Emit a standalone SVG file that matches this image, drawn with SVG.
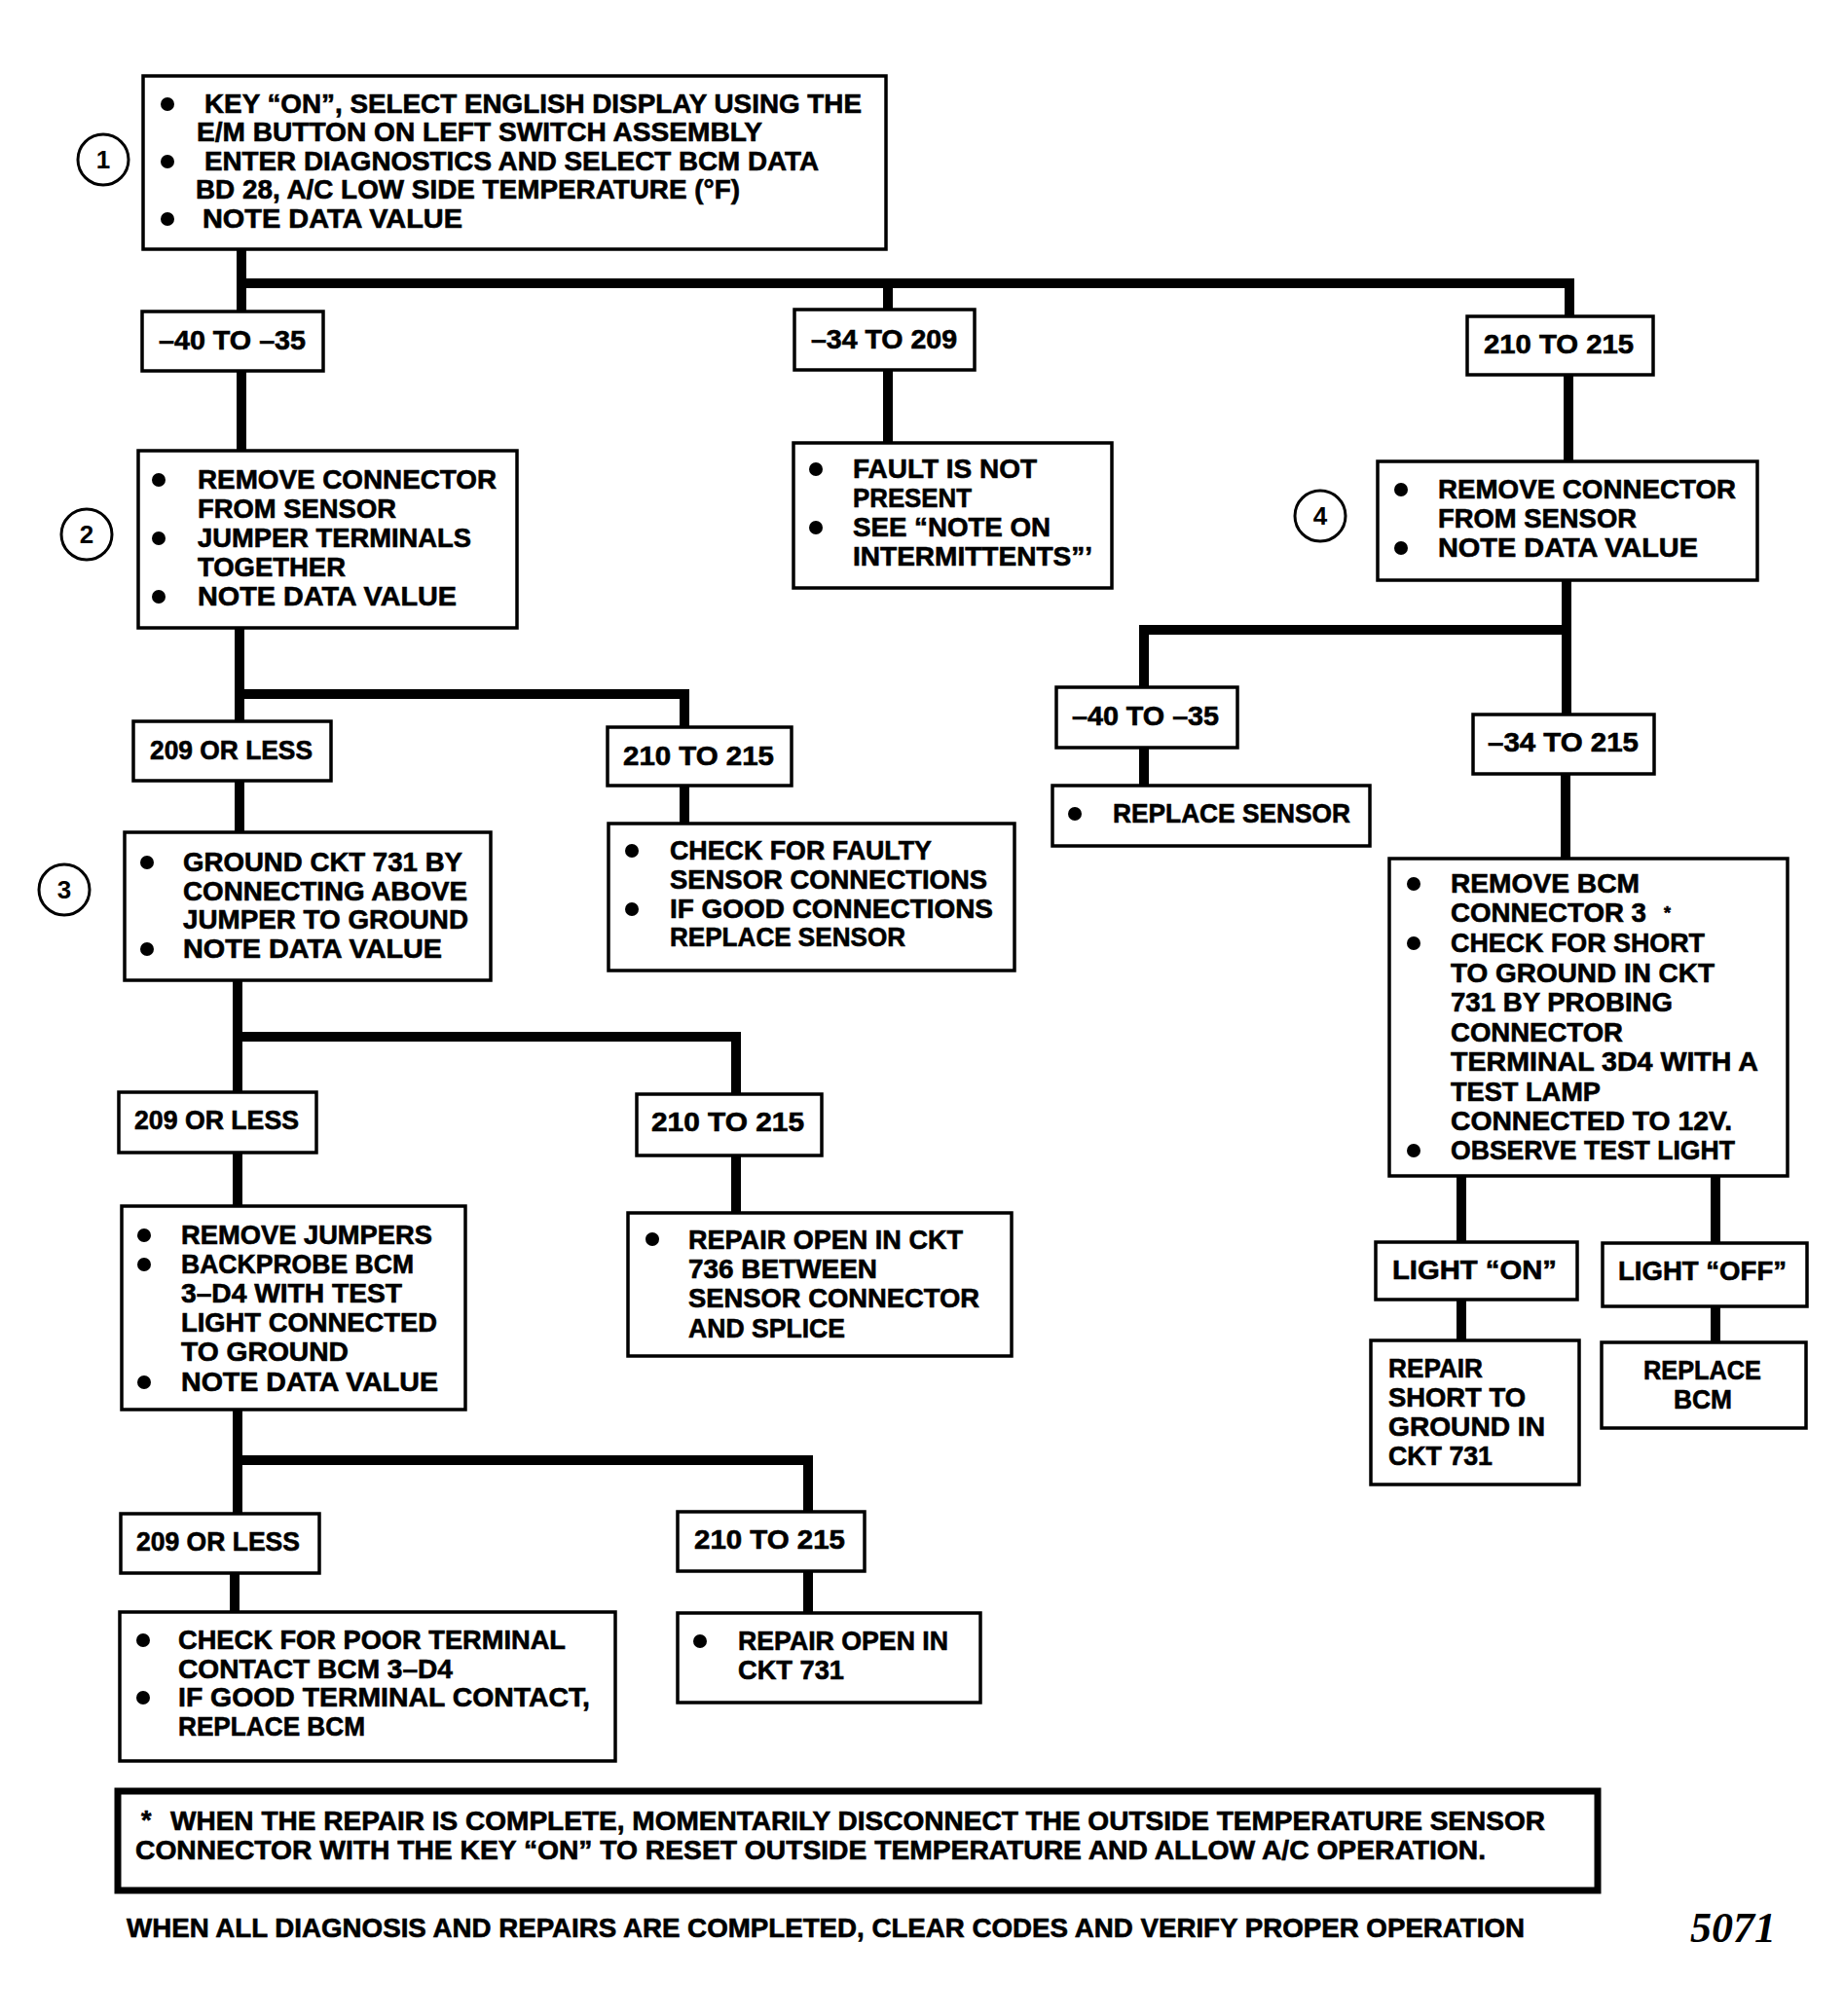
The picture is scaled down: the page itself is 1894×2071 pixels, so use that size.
<svg xmlns="http://www.w3.org/2000/svg" width="1894" height="2071" viewBox="0 0 1894 2071">
<style>
.bx{fill:#fff;stroke:#000;stroke-width:3.5}
.fn{fill:#fff;stroke:#000;stroke-width:7}
.cn{fill:none;stroke:#000;stroke-width:10;stroke-linejoin:miter}
.ci{fill:#fff;stroke:#000;stroke-width:3}
.t{font-family:"Liberation Sans",Arial,sans-serif;font-weight:bold;font-size:27px;fill:#000;stroke:#000;stroke-width:0.6}
.tc{font-family:"Liberation Sans",Arial,sans-serif;font-weight:bold;font-size:26px;fill:#000;text-anchor:middle}
.d{fill:#000}
</style>
<rect width="1894" height="2071" fill="#fff"/>
<g id="connectors">
<path class="cn" d="M248,256 V320"/>
<path class="cn" d="M243,291 H1612 V325"/>
<path class="cn" d="M912,291 V318"/>
<path class="cn" d="M248,381 V463"/>
<path class="cn" d="M912,380 V455"/>
<path class="cn" d="M1611,385 V474"/>
<path class="cn" d="M246,645 V741"/>
<path class="cn" d="M241,713 H703 V747"/>
<path class="cn" d="M246,802 V855"/>
<path class="cn" d="M703,807 V846"/>
<path class="cn" d="M244,1007 V1122"/>
<path class="cn" d="M239,1065 H756 V1124"/>
<path class="cn" d="M244,1184 V1239"/>
<path class="cn" d="M756,1187 V1246"/>
<path class="cn" d="M244,1448 V1555"/>
<path class="cn" d="M239,1500 H830 V1553"/>
<path class="cn" d="M241,1616 V1656"/>
<path class="cn" d="M830,1614 V1657"/>
<path class="cn" d="M1609,596 V734"/>
<path class="cn" d="M1614,647 H1175 V706"/>
<path class="cn" d="M1175,768 V807"/>
<path class="cn" d="M1608,795 V882"/>
<path class="cn" d="M1501,1208 V1276"/>
<path class="cn" d="M1762,1208 V1277"/>
<path class="cn" d="M1501,1335 V1377"/>
<path class="cn" d="M1762,1342 V1379"/>
</g>
<g id="step1">
<rect class="bx" x="147" y="78" width="763" height="178"/>
<circle class="d" cx="172" cy="107" r="7"/>
<circle class="d" cx="172" cy="166" r="7"/>
<circle class="d" cx="172" cy="225" r="7"/>
<text class="t" x="210" y="116" textLength="675" lengthAdjust="spacingAndGlyphs">KEY “ON”, SELECT ENGLISH DISPLAY USING THE</text>
<text class="t" x="202" y="145" textLength="581" lengthAdjust="spacingAndGlyphs">E/M BUTTON ON LEFT SWITCH ASSEMBLY</text>
<text class="t" x="210" y="175" textLength="631" lengthAdjust="spacingAndGlyphs">ENTER DIAGNOSTICS AND SELECT BCM DATA</text>
<text class="t" x="201" y="204" textLength="559" lengthAdjust="spacingAndGlyphs">BD 28, A/C LOW SIDE TEMPERATURE (°F)</text>
<text class="t" x="208" y="234" textLength="267" lengthAdjust="spacingAndGlyphs">NOTE DATA VALUE</text>
</g>
<g id="label1"><circle class="ci" cx="106" cy="164" r="26"/><text class="tc" x="106" y="173">1</text></g>
<g id="r1a"><rect class="bx" x="146" y="320" width="186" height="61"/><text class="t" x="163" y="359" textLength="151" lengthAdjust="spacingAndGlyphs">–40 TO –35</text></g>
<g id="r1b"><rect class="bx" x="816" y="318" width="185" height="62"/><text class="t" x="833" y="358" textLength="150" lengthAdjust="spacingAndGlyphs">–34 TO 209</text></g>
<g id="r1c"><rect class="bx" x="1507" y="325" width="191" height="60"/><text class="t" x="1524" y="363" textLength="154" lengthAdjust="spacingAndGlyphs">210 TO 215</text></g>
<g id="step2">
<rect class="bx" x="142" y="463" width="389" height="182"/>
<circle class="d" cx="163" cy="493" r="7"/>
<circle class="d" cx="163" cy="553" r="7"/>
<circle class="d" cx="163" cy="613" r="7"/>
<text class="t" x="203" y="502" textLength="307" lengthAdjust="spacingAndGlyphs">REMOVE CONNECTOR</text>
<text class="t" x="203" y="532" textLength="204" lengthAdjust="spacingAndGlyphs">FROM SENSOR</text>
<text class="t" x="203" y="562" textLength="281" lengthAdjust="spacingAndGlyphs">JUMPER TERMINALS</text>
<text class="t" x="203" y="592" textLength="152" lengthAdjust="spacingAndGlyphs">TOGETHER</text>
<text class="t" x="203" y="622" textLength="266" lengthAdjust="spacingAndGlyphs">NOTE DATA VALUE</text>
</g>
<g id="label2"><circle class="ci" cx="89" cy="549" r="26"/><text class="tc" x="89" y="558">2</text></g>
<g id="fault">
<rect class="bx" x="815" y="455" width="327" height="149"/>
<circle class="d" cx="838" cy="482" r="7"/>
<circle class="d" cx="838" cy="542" r="7"/>
<text class="t" x="876" y="491" textLength="189" lengthAdjust="spacingAndGlyphs">FAULT IS NOT</text>
<text class="t" x="876" y="521" textLength="122" lengthAdjust="spacingAndGlyphs">PRESENT</text>
<text class="t" x="876" y="551" textLength="203" lengthAdjust="spacingAndGlyphs">SEE “NOTE ON</text>
<text class="t" x="876" y="581" textLength="246" lengthAdjust="spacingAndGlyphs">INTERMITTENTS”’</text>
</g>
<g id="step4">
<rect class="bx" x="1415" y="474" width="390" height="122"/>
<circle class="d" cx="1439" cy="503" r="7"/>
<circle class="d" cx="1439" cy="563" r="7"/>
<text class="t" x="1477" y="512" textLength="306" lengthAdjust="spacingAndGlyphs">REMOVE CONNECTOR</text>
<text class="t" x="1477" y="542" textLength="204" lengthAdjust="spacingAndGlyphs">FROM SENSOR</text>
<text class="t" x="1477" y="572" textLength="267" lengthAdjust="spacingAndGlyphs">NOTE DATA VALUE</text>
</g>
<g id="label4"><circle class="ci" cx="1356" cy="530" r="26"/><text class="tc" x="1356" y="539">4</text></g>
<g id="r2a"><rect class="bx" x="137" y="741" width="203" height="61"/><text class="t" x="154" y="780" textLength="167" lengthAdjust="spacingAndGlyphs">209 OR LESS</text></g>
<g id="r2b"><rect class="bx" x="624" y="747" width="189" height="60"/><text class="t" x="640" y="786" textLength="155" lengthAdjust="spacingAndGlyphs">210 TO 215</text></g>
<g id="step3">
<rect class="bx" x="128" y="855" width="376" height="152"/>
<circle class="d" cx="151" cy="886" r="7"/>
<circle class="d" cx="151" cy="975" r="7"/>
<text class="t" x="188" y="895" textLength="287" lengthAdjust="spacingAndGlyphs">GROUND CKT 731 BY</text>
<text class="t" x="188" y="925" textLength="292" lengthAdjust="spacingAndGlyphs">CONNECTING ABOVE</text>
<text class="t" x="188" y="954" textLength="293" lengthAdjust="spacingAndGlyphs">JUMPER TO GROUND</text>
<text class="t" x="188" y="984" textLength="266" lengthAdjust="spacingAndGlyphs">NOTE DATA VALUE</text>
</g>
<g id="label3"><circle class="ci" cx="66" cy="914" r="26"/><text class="tc" x="66" y="923">3</text></g>
<g id="faulty">
<rect class="bx" x="625" y="846" width="417" height="151"/>
<circle class="d" cx="649" cy="874" r="7"/>
<circle class="d" cx="649" cy="934" r="7"/>
<text class="t" x="688" y="883" textLength="269" lengthAdjust="spacingAndGlyphs">CHECK FOR FAULTY</text>
<text class="t" x="688" y="913" textLength="326" lengthAdjust="spacingAndGlyphs">SENSOR CONNECTIONS</text>
<text class="t" x="688" y="943" textLength="332" lengthAdjust="spacingAndGlyphs">IF GOOD CONNECTIONS</text>
<text class="t" x="688" y="972" textLength="242" lengthAdjust="spacingAndGlyphs">REPLACE SENSOR</text>
</g>
<g id="r4a"><rect class="bx" x="1085" y="706" width="186" height="62"/><text class="t" x="1101" y="745" textLength="151" lengthAdjust="spacingAndGlyphs">–40 TO –35</text></g>
<g id="replacesensor"><rect class="bx" x="1081" y="807" width="326" height="62"/><circle class="d" cx="1104" cy="836" r="7"/><text class="t" x="1143" y="845" textLength="244" lengthAdjust="spacingAndGlyphs">REPLACE SENSOR</text></g>
<g id="r4b"><rect class="bx" x="1513" y="734" width="186" height="61"/><text class="t" x="1528" y="772" textLength="155" lengthAdjust="spacingAndGlyphs">–34 TO 215</text></g>
<g id="bcmcheck">
<rect class="bx" x="1427" y="882" width="409" height="326"/>
<circle class="d" cx="1452" cy="908" r="7"/>
<circle class="d" cx="1452" cy="969" r="7"/>
<circle class="d" cx="1452" cy="1182" r="7"/>
<text class="t" x="1490" y="917" textLength="194" lengthAdjust="spacingAndGlyphs">REMOVE BCM</text>
<text class="t" x="1490" y="947" textLength="201" lengthAdjust="spacingAndGlyphs">CONNECTOR 3</text>
<text class="t" x="1709" y="944" style="font-size:18px">*</text>
<text class="t" x="1490" y="978" textLength="261" lengthAdjust="spacingAndGlyphs">CHECK FOR SHORT</text>
<text class="t" x="1490" y="1009" textLength="271" lengthAdjust="spacingAndGlyphs">TO GROUND IN CKT</text>
<text class="t" x="1490" y="1039" textLength="228" lengthAdjust="spacingAndGlyphs">731 BY PROBING</text>
<text class="t" x="1490" y="1070" textLength="177" lengthAdjust="spacingAndGlyphs">CONNECTOR</text>
<text class="t" x="1490" y="1100" textLength="316" lengthAdjust="spacingAndGlyphs">TERMINAL 3D4 WITH A</text>
<text class="t" x="1490" y="1131" textLength="154" lengthAdjust="spacingAndGlyphs">TEST LAMP</text>
<text class="t" x="1490" y="1161" textLength="289" lengthAdjust="spacingAndGlyphs">CONNECTED TO 12V.</text>
<text class="t" x="1490" y="1191" textLength="292" lengthAdjust="spacingAndGlyphs">OBSERVE TEST LIGHT</text>
</g>
<g id="r3a"><rect class="bx" x="122" y="1122" width="203" height="62"/><text class="t" x="138" y="1160" textLength="169" lengthAdjust="spacingAndGlyphs">209 OR LESS</text></g>
<g id="r3b"><rect class="bx" x="654" y="1124" width="190" height="63"/><text class="t" x="669" y="1162" textLength="157" lengthAdjust="spacingAndGlyphs">210 TO 215</text></g>
<g id="jumpers">
<rect class="bx" x="125" y="1239" width="353" height="209"/>
<circle class="d" cx="148" cy="1269" r="7"/>
<circle class="d" cx="148" cy="1299" r="7"/>
<circle class="d" cx="148" cy="1420" r="7"/>
<text class="t" x="186" y="1278" textLength="258" lengthAdjust="spacingAndGlyphs">REMOVE JUMPERS</text>
<text class="t" x="186" y="1308" textLength="239" lengthAdjust="spacingAndGlyphs">BACKPROBE BCM</text>
<text class="t" x="186" y="1338" textLength="227" lengthAdjust="spacingAndGlyphs">3–D4 WITH TEST</text>
<text class="t" x="186" y="1368" textLength="263" lengthAdjust="spacingAndGlyphs">LIGHT CONNECTED</text>
<text class="t" x="186" y="1398" textLength="172" lengthAdjust="spacingAndGlyphs">TO GROUND</text>
<text class="t" x="186" y="1429" textLength="264" lengthAdjust="spacingAndGlyphs">NOTE DATA VALUE</text>
</g>
<g id="open736">
<rect class="bx" x="645" y="1246" width="394" height="147"/>
<circle class="d" cx="670" cy="1273" r="7"/>
<text class="t" x="707" y="1283" textLength="282" lengthAdjust="spacingAndGlyphs">REPAIR OPEN IN CKT</text>
<text class="t" x="707" y="1313" textLength="194" lengthAdjust="spacingAndGlyphs">736 BETWEEN</text>
<text class="t" x="707" y="1343" textLength="299" lengthAdjust="spacingAndGlyphs">SENSOR CONNECTOR</text>
<text class="t" x="707" y="1374" textLength="161" lengthAdjust="spacingAndGlyphs">AND SPLICE</text>
</g>
<g id="r5a"><rect class="bx" x="124" y="1555" width="204" height="61"/><text class="t" x="140" y="1593" textLength="168" lengthAdjust="spacingAndGlyphs">209 OR LESS</text></g>
<g id="r5b"><rect class="bx" x="696" y="1553" width="192" height="61"/><text class="t" x="713" y="1591" textLength="155" lengthAdjust="spacingAndGlyphs">210 TO 215</text></g>
<g id="poor">
<rect class="bx" x="123" y="1656" width="509" height="153"/>
<circle class="d" cx="147" cy="1685" r="7"/>
<circle class="d" cx="147" cy="1744" r="7"/>
<text class="t" x="183" y="1694" textLength="398" lengthAdjust="spacingAndGlyphs">CHECK FOR POOR TERMINAL</text>
<text class="t" x="183" y="1724" textLength="282" lengthAdjust="spacingAndGlyphs">CONTACT BCM 3–D4</text>
<text class="t" x="183" y="1753" textLength="423" lengthAdjust="spacingAndGlyphs">IF GOOD TERMINAL CONTACT,</text>
<text class="t" x="183" y="1783" textLength="192" lengthAdjust="spacingAndGlyphs">REPLACE BCM</text>
</g>
<g id="open731">
<rect class="bx" x="696" y="1657" width="311" height="92"/>
<circle class="d" cx="719" cy="1686" r="7"/>
<text class="t" x="758" y="1695" textLength="216" lengthAdjust="spacingAndGlyphs">REPAIR OPEN IN</text>
<text class="t" x="758" y="1725" textLength="109" lengthAdjust="spacingAndGlyphs">CKT 731</text>
</g>
<g id="lighton"><rect class="bx" x="1413" y="1276" width="207" height="59"/><text class="t" x="1430" y="1314" textLength="169" lengthAdjust="spacingAndGlyphs">LIGHT “ON”</text></g>
<g id="lightoff"><rect class="bx" x="1646" y="1277" width="210" height="65"/><text class="t" x="1662" y="1315" textLength="173" lengthAdjust="spacingAndGlyphs">LIGHT “OFF”</text></g>
<g id="short">
<rect class="bx" x="1408" y="1377" width="214" height="148"/>
<text class="t" x="1426" y="1415" textLength="97" lengthAdjust="spacingAndGlyphs">REPAIR</text>
<text class="t" x="1426" y="1445" textLength="141" lengthAdjust="spacingAndGlyphs">SHORT TO</text>
<text class="t" x="1426" y="1475" textLength="161" lengthAdjust="spacingAndGlyphs">GROUND IN</text>
<text class="t" x="1426" y="1505" textLength="107" lengthAdjust="spacingAndGlyphs">CKT 731</text>
</g>
<g id="replacebcm">
<rect class="bx" x="1645" y="1379" width="210" height="88"/>
<text class="t" x="1688" y="1417" textLength="121" lengthAdjust="spacingAndGlyphs">REPLACE</text>
<text class="t" x="1719" y="1447" textLength="60" lengthAdjust="spacingAndGlyphs">BCM</text>
</g>
<g id="footnote">
<rect class="fn" x="121" y="1840" width="1520" height="102"/>
<text class="t" x="145" y="1879">*</text>
<text class="t" x="175" y="1880" textLength="1412" lengthAdjust="spacingAndGlyphs">WHEN THE REPAIR IS COMPLETE, MOMENTARILY DISCONNECT THE OUTSIDE TEMPERATURE SENSOR</text>
<text class="t" x="139" y="1910" textLength="1387" lengthAdjust="spacingAndGlyphs">CONNECTOR WITH THE KEY “ON” TO RESET OUTSIDE TEMPERATURE AND ALLOW A/C OPERATION.</text>
</g>
<text class="t" x="130" y="1990" textLength="1436" lengthAdjust="spacingAndGlyphs">WHEN ALL DIAGNOSIS AND REPAIRS ARE COMPLETED, CLEAR CODES AND VERIFY PROPER OPERATION</text>
<text x="1736" y="1995" style="font-family:'Liberation Serif','Times New Roman',serif;font-style:italic;font-weight:bold;font-size:44px">5071</text>
</svg>
